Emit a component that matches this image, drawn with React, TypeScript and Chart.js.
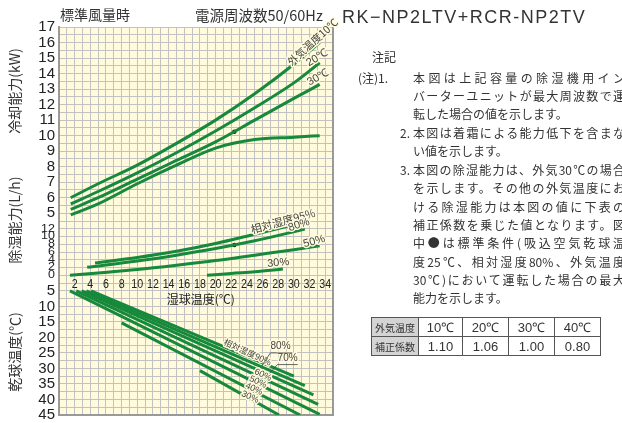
import React, { useEffect, useRef } from 'react';
import { Chart, registerables } from 'chart.js';
Chart.register(...registerables);

// ---------- tick labels ----------
const kwTicks = [17, 16, 15, 14, 13, 12, 11, 10, 9, 8, 7, 6, 5];
const lhTicks = [12, 10, 8, 6, 4, 2, 0];
const dbTicks = [5, 10, 15, 20, 25, 30, 35, 40, 45];
const wbTicks = [2, 4, 6, 8, 10, 12, 14, 16, 18, 20, 22, 24, 26, 28, 30, 32, 34];

// ---------- cooling capacity (kW) vs wet-bulb (°C), by outdoor temperature ----------
const coolWB = [1.5, 5, 10, 15, 20, 25, 30, 33.3];
const coolOut10 = [6.0, 6.9, 8.1, 9.5, 11.0, 12.7, 14.6, 16.0];
const coolOut20 = [5.6, 6.4, 7.6, 8.9, 10.3, 11.8, 13.4, 14.7];
const coolOut30 = [5.25, 6.0, 7.2, 8.4, 9.6, 11.0, 12.4, 13.3];
const coolOut40 = [4.9, 5.6, 6.9, 8.1, 9.2, 9.75, 9.9, 10.0];

// ---------- dehumidifying capacity (L/h) vs wet-bulb, by relative humidity ----------
const dh95WB = [4.6, 10, 15, 20, 25, 29.3];
const dh95 = [3.2, 4.6, 6.2, 8.2, 10.6, 12.7];
const dh80WB = [3.6, 10, 15, 20, 25, 31.4];
const dh80 = [2.1, 3.7, 5.2, 6.9, 8.9, 11.9];
const dh50WB = [1.4, 5, 10, 15, 20, 25, 30, 33.3];
const dh50 = [0, 0.6, 1.5, 2.6, 3.8, 5.2, 6.6, 7.6];
const dh30WB = [18.9, 22, 25, 28.6];
const dh30 = [0, 0.5, 0.9, 1.6];

// ---------- dry-bulb (°C) vs wet-bulb, by relative humidity ----------
const rh90WB = [4.1, 30.0];
const rh90DB = [5, 32.5];
const rh80WB = [3.5, 31.4];
const rh80DB = [5, 35.5];
const rh70WB = [2.9, 32.5];
const rh70DB = [5, 38.5];
const rh60WB = [2.2, 33.1];
const rh60DB = [5, 41.6];
const rh50WB = [1.4, 33.3];
const rh50DB = [5, 44.8];
const rh40WB = [8.0, 30.8];
const rh40DB = [15.3, 45];
const rh30WB = [18.0, 28.1];
const rh30DB = [30.7, 45];

// standard condition markers
const stdWB = 22.4;
const stdKW = 10.25;
const stdLH = 7.8;

const corrTemps = ['10℃', '20℃', '30℃', '40℃'];
const corrFactors = ['1.10', '1.06', '1.00', '0.80'];

// row mapping on the shared grid (row 0 = top, 50 = bottom)
const kwRow = (v: number) => (17 - v) * 2;
const lhRow = (v: number) => 32 - v / 2;
const dbRow = (v: number) => 34 + (v - 5) / 2.5;

const GREEN = '#16893a';
const CREAM = '#fffbdc';
const TXT = '#333';
const JP = '"Noto Sans CJK JP", "Noto Sans", sans-serif';
const LAT = '"Liberation Sans", Arial, sans-serif';

function series(xs: number[], ys: number[], map: (v: number) => number, label: string, curved = true) {
  return {
    label,
    data: xs.map((x, i) => ({ x, y: map(ys[i]) })),
    borderColor: GREEN,
    borderWidth: 3,
    pointRadius: 0,
    fill: false,
    cubicInterpolationMode: curved ? 'monotone' : 'default',
    tension: 0,
    borderCapStyle: 'butt',
  };
}

function rotText(ctx: CanvasRenderingContext2D, text: string, x: number, y: number, deg: number, font: string, halo = true) {
  ctx.save();
  ctx.translate(x, y);
  ctx.rotate((deg * Math.PI) / 180);
  ctx.font = font;
  ctx.textAlign = 'center';
  ctx.textBaseline = 'middle';
  if (halo) {
    ctx.lineJoin = 'round';
    ctx.lineWidth = 3;
    ctx.strokeStyle = CREAM;
    ctx.strokeText(text, 0, 0);
  }
  ctx.fillStyle = '#444';
  ctx.fillText(text, 0, 0);
  ctx.restore();
}

const labelsPlugin = {
  id: 'nomoLabels',
  beforeDraw(chart: any) {
    const { ctx, chartArea: a } = chart;
    ctx.save();
    ctx.fillStyle = CREAM;
    ctx.fillRect(a.left, a.top, a.right - a.left, a.bottom - a.top);
    ctx.restore();
  },
  afterDraw(chart: any) {
    const ctx: CanvasRenderingContext2D = chart.ctx;
    const xs = chart.scales.x;
    const ys = chart.scales.y;
    const a = chart.chartArea;
    const X = (v: number) => xs.getPixelForValue(v);
    const Y = (r: number) => ys.getPixelForValue(r);

    ctx.save();
    // right border
    ctx.strokeStyle = '#999';
    ctx.lineWidth = 2;
    ctx.beginPath();
    ctx.moveTo(a.right, a.top);
    ctx.lineTo(a.right, a.bottom);
    ctx.stroke();

    // left tick labels
    ctx.fillStyle = '#222';
    ctx.textAlign = 'right';
    ctx.textBaseline = 'middle';
    ctx.font = `15px ${LAT}`;
    kwTicks.forEach((v) => ctx.fillText(String(v), a.left - 4, Y(kwRow(v))));
    dbTicks.forEach((v) => ctx.fillText(String(v), a.left - 4, Y(dbRow(v))));
    ctx.font = `12.5px ${LAT}`;
    lhTicks.forEach((v) => {
      ctx.save();
      ctx.translate(a.left - 4, Y(lhRow(v)));
      ctx.scale(1, 0.8);
      ctx.fillText(String(v), 0, 0);
      ctx.restore();
    });

    // wet-bulb labels inside the plot
    ctx.textAlign = 'center';
    ctx.font = `13px ${LAT}`;
    wbTicks.forEach((v) => {
      ctx.save();
      ctx.translate(X(v), Y(33.2));
      ctx.scale(0.82, 1);
      ctx.fillText(String(v), 0, 0);
      ctx.restore();
    });
    ctx.font = `12px ${JP}`;
    ctx.fillText('湿球温度(℃)', X(18.1), Y(35.05));

    // axis titles (rotated)
    ctx.font = `14px ${JP}`;
    ctx.fillStyle = TXT;
    const vt = (t: string, x: number, y: number) => {
      ctx.save();
      ctx.translate(x, y);
      ctx.rotate(-Math.PI / 2);
      ctx.fillText(t, 0, 0);
      ctx.restore();
    };
    vt('冷却能力(kW)', 15, 91);
    vt('除湿能力(L/h)', 15, 220);
    vt('乾球温度(℃)', 15, 352);

    // header
    ctx.textAlign = 'left';
    ctx.font = `14px ${JP}`;
    ctx.fillText('標準風量時', 60, 15);
    ctx.font = `14.5px ${JP}`;
    ctx.fillText('電源周波数50/60Hz', 195, 15);

    // cooling curve labels
    rotText(ctx, '外気温度10℃', X(32.4), Y(1.9), -42, `10.5px ${JP}`);
    rotText(ctx, '20℃', X(33.0), Y(4.0), -30, `11px ${LAT}`);
    rotText(ctx, '30℃', X(33.1), Y(6.5), -30, `11px ${LAT}`);

    // dehumidifying labels
    rotText(ctx, '相対湿度95%', X(28.6), Y(25.0), -15, `11px ${JP}`);
    rotText(ctx, '80%', X(30.65), Y(25.5), -18, `11px ${LAT}`);
    rotText(ctx, '50%', X(32.6), Y(27.64), -15, `11px ${LAT}`);
    rotText(ctx, '30%', X(28.0), Y(30.4), -5, `11px ${LAT}`);

    // dry-bulb labels
    rotText(ctx, '相対湿度90%', X(24.1), Y(41.9), 25, `8.5px ${JP}`);
    rotText(ctx, '80%', X(28.3), Y(41.2), 0, `10px ${LAT}`);
    rotText(ctx, '70%', X(29.2), Y(42.75), 0, `10px ${LAT}`);
    ctx.strokeStyle = '#444';
    ctx.lineWidth = 0.8;
    ctx.beginPath();
    ctx.moveTo(X(27.0), Y(42.0));
    ctx.lineTo(X(29.8), Y(42.0));
    ctx.moveTo(X(27.0), Y(42.0));
    ctx.lineTo(X(25.9), Y(43.7));
    ctx.moveTo(X(27.9), Y(43.5));
    ctx.lineTo(X(30.5), Y(43.5));
    ctx.moveTo(X(27.9), Y(43.5));
    ctx.lineTo(X(26.7), Y(44.85));
    ctx.stroke();
    rotText(ctx, '60%', X(26.05), Y(44.85), 25, `9px ${LAT}`);
    rotText(ctx, '50%', X(25.4), Y(45.75), 25, `9px ${LAT}`);
    rotText(ctx, '40%', X(24.9), Y(46.65), 25, `9px ${LAT}`);
    rotText(ctx, '30%', X(24.4), Y(47.68), 25, `9px ${LAT}`);
    ctx.restore();
  },
};

function NomoChart() {
  const ref = useRef<HTMLCanvasElement>(null);
  useEffect(() => {
    if (!ref.current) return;
    const chart = new Chart(ref.current, {
      type: 'line',
      data: {
        datasets: [
          series(coolWB, coolOut10, kwRow, '外気温度10℃'),
          series(coolWB, coolOut20, kwRow, '20℃'),
          series(coolWB, coolOut30, kwRow, '30℃'),
          series(coolWB, coolOut40, kwRow, '40℃'),
          series(dh95WB, dh95, lhRow, '95%'),
          series(dh80WB, dh80, lhRow, '80%'),
          series(dh50WB, dh50, lhRow, '50%'),
          series(dh30WB, dh30, lhRow, '30%'),
          series(rh90WB, rh90DB, dbRow, 'RH90', false),
          series(rh80WB, rh80DB, dbRow, 'RH80', false),
          series(rh70WB, rh70DB, dbRow, 'RH70', false),
          series(rh60WB, rh60DB, dbRow, 'RH60', false),
          series(rh50WB, rh50DB, dbRow, 'RH50', false),
          series(rh40WB, rh40DB, dbRow, 'RH40', false),
          series(rh30WB, rh30DB, dbRow, 'RH30', false),
          {
            label: 'std',
            data: [
              { x: stdWB, y: kwRow(stdKW) },
              { x: stdWB, y: lhRow(stdLH) },
            ],
            showLine: false,
            pointRadius: 2.2,
            pointBackgroundColor: '#111',
            pointBorderWidth: 0,
          },
        ] as any,
      },
      options: {
        responsive: false,
        animation: false,
        events: [],
        layout: { padding: { left: 59, top: 27, right: 27, bottom: 8 } },
        plugins: { legend: { display: false }, tooltip: { enabled: false } },
        scales: {
          x: {
            type: 'linear',
            min: 0,
            max: 35,
            ticks: { display: false, stepSize: 1, maxTicksLimit: 100 },
            grid: { color: '#c2c2c2', lineWidth: 1, drawTicks: false },
            border: { display: true, color: '#999', width: 2 },
          },
          y: {
            type: 'linear',
            min: 0,
            max: 50,
            reverse: true,
            ticks: { display: false, stepSize: 1, maxTicksLimit: 100 },
            grid: { color: '#c2c2c2', lineWidth: 1, drawTicks: false },
            border: { display: true, color: '#999', width: 2 },
          },
        },
      },
      plugins: [labelsPlugin],
    });
    return () => chart.destroy();
  }, []);
  return (
    <canvas
      ref={ref}
      width={360}
      height={423}
      style={{ position: 'absolute', left: 0, top: 0, width: 360, height: 423 }}
    />
  );
}

const noteStyle: React.CSSProperties = {
  position: 'absolute',
  fontFamily: JP,
  fontSize: 12,
  lineHeight: '18px',
  color: TXT,
  whiteSpace: 'nowrap',
};

const justified = (text: string, top: number, left = 413, width = 212) => (
  <div
    key={text}
    style={{
      ...noteStyle,
      left,
      top,
      width,
      whiteSpace: 'normal',
      textAlign: 'justify',
      textAlignLast: 'justify',
    }}
  >
    {text}
  </div>
);

const plain = (text: string, top: number, left = 413) => (
  <div key={text} style={{ ...noteStyle, left, top }}>
    {text}
  </div>
);

const cell: React.CSSProperties = {
  border: '1px solid #555',
  padding: 0,
  height: 18,
  textAlign: 'center',
  fontFamily: LAT,
  fontSize: 13,
  color: TXT,
};
const headCell: React.CSSProperties = {
  ...cell,
  background: '#d4d4d4',
  fontFamily: JP,
  fontSize: 10,
};

export default function App() {
  return (
    <div
      style={{
        position: 'absolute',
        left: 0,
        top: 0,
        width: 622,
        height: 423,
        overflow: 'hidden',
        background: '#fff',
      }}
    >
      <NomoChart />
      <div
        style={{
          position: 'absolute',
          left: 342,
          top: 7,
          fontFamily: LAT,
          fontSize: 18,
          letterSpacing: 1.5,
          color: TXT,
          whiteSpace: 'nowrap',
        }}
      >
        RK−NP2LTV+RCR-NP2TV
      </div>
      {plain('注記', 48, 372)}
      {plain('(注)1.', 69, 358)}
      {justified('本図は上記容量の除湿機用イン', 69)}
      {justified('バーターユニットが最大周波数で運', 87)}
      {plain('転した場合の値を示します。', 105)}
      {plain('2.', 124, 400)}
      {justified('本図は着霜による能力低下を含まな', 124)}
      {plain('い値を示します。', 142)}
      {plain('3.', 161, 400)}
      {justified('本図の除湿能力は、外気30℃の場合', 161)}
      {justified('を示します。その他の外気温度にお', 179)}
      {justified('ける除湿能力は本図の値に下表の', 198)}
      {justified('補正係数を乗じた値となります。図', 216)}
      {justified('中●は標準条件(吸込空気乾球温', 234)}
      {justified('度25℃、相対湿度80%、外気温度', 253)}
      {justified('30℃)において運転した場合の最大', 271)}
      {plain('能力を示します。', 289)}
      <table
        style={{
          position: 'absolute',
          left: 371,
          top: 317,
          borderCollapse: 'collapse',
          tableLayout: 'fixed',
          width: 276,
        }}
      >
        <colgroup>
          <col style={{ width: 47 }} />
          <col style={{ width: 44 }} />
          <col style={{ width: 46 }} />
          <col style={{ width: 46 }} />
          <col style={{ width: 46 }} />
          <col style={{ width: 47 }} />
        </colgroup>
        <tbody>
          <tr>
            <td style={headCell}>外気温度</td>
            {corrTemps.map((t) => (
              <td key={t} style={cell}>{t}</td>
            ))}
            <td style={{ ...cell, borderRight: 'none', borderTop: 'none', borderBottom: 'none' }}></td>
          </tr>
          <tr>
            <td style={headCell}>補正係数</td>
            {corrFactors.map((t) => (
              <td key={t} style={cell}>{t}</td>
            ))}
            <td style={{ ...cell, borderRight: 'none', borderTop: 'none', borderBottom: 'none' }}></td>
          </tr>
        </tbody>
      </table>
    </div>
  );
}
